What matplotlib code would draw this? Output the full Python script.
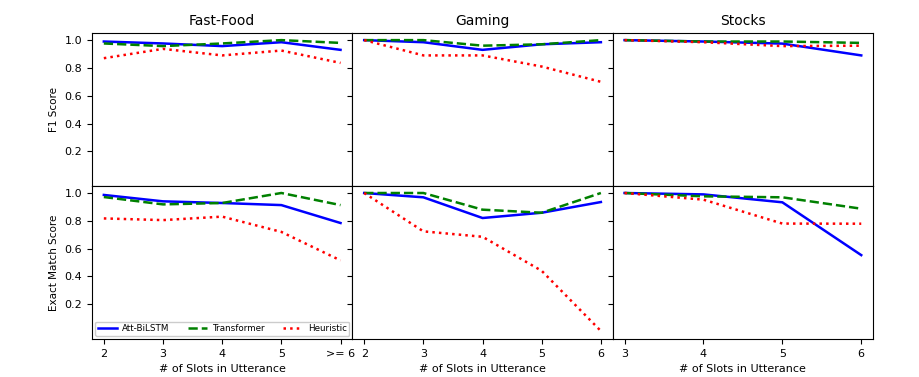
import numpy             as np
import matplotlib
matplotlib.use('Agg')
import matplotlib.pyplot as plt

domains  = ['Fast-Food', 'Gaming', 'Stocks']
x_slots  = [[2, 3, 4, 5, 6], [2, 3, 4, 5, 6], [3, 4, 5, 6]]
x_labels = [['2', '3', '4', '5', '>= 6'], ['2', '3', '4', '5', '6'], ['3', '4', '5', '6']]

# F1 score per domain
f1_bilstm      = [[0.99, 0.976, 0.957, 0.985, 0.93], [1.0, 0.985, 0.93, 0.97, 0.985], [1.0, 0.99, 0.975, 0.89]]
f1_transformer = [[0.976, 0.957, 0.976, 1.0, 0.98], [1.0, 1.0, 0.96, 0.97, 1.0], [1.0, 0.99, 0.99, 0.98]]
f1_heuristic   = [[0.87, 0.937, 0.89, 0.925, 0.836], [1.0, 0.89, 0.89, 0.81, 0.70], [1.0, 0.985, 0.957, 0.96]]

# exact match score per domain
em_bilstm      = [[0.986, 0.94, 0.928, 0.913, 0.784], [1.0, 0.969, 0.82, 0.858, 0.935], [1.0, 0.99, 0.933, 0.553]]
em_transformer = [[0.971, 0.918, 0.928, 1.0, 0.913], [1.0, 1.0, 0.88, 0.858, 1.0], [1.0, 0.976, 0.969, 0.887]]
em_heuristic   = [[0.817, 0.805, 0.83, 0.72, 0.515], [1.0, 0.724, 0.685, 0.44, 0.007], [1.0, 0.952, 0.78, 0.779]]

rows = [(f1_bilstm, f1_transformer, f1_heuristic, 'F1 Score'),
        (em_bilstm, em_transformer, em_heuristic, 'Exact Match Score')]

fig, axes = plt.subplots(2, 3, figsize=(9.2, 3.77), dpi=100)
fig.subplots_adjust(left=0.1, right=0.949, top=0.912, bottom=0.101, wspace=0, hspace=0)

for r, (bil, trf, heu, ylab) in enumerate(rows):
    for c in range(3):
        ax = axes[r][c]
        ax.plot(x_slots[c], bil[c], color='blue',  lw=1.8, ls='-',  label='Att-BiLSTM')
        ax.plot(x_slots[c], trf[c], color='green', lw=1.8, ls='--', label='Transformer')
        ax.plot(x_slots[c], heu[c], color='red',   lw=1.8, ls=':',  label='Heuristic')
        ax.set_ylim(-0.05, 1.05)
        ax.set_yticks([0.2, 0.4, 0.6, 0.8, 1.0])
        ax.set_xticks(x_slots[c])
        ax.tick_params(labelsize=8)
        if c == 0:
            ax.set_ylabel(ylab, fontsize=7.5)
        else:
            ax.set_yticklabels([])
        if r == 0:
            ax.set_title(domains[c], fontsize=10)
            ax.tick_params(axis='x', bottom=False, labelbottom=False)
        else:
            ax.set_xticklabels(x_labels[c])
            ax.set_xlabel('# of Slots in Utterance', fontsize=8)

axes[1][0].legend(loc='lower center', ncol=3, fontsize=6.3, mode='expand',
                  handlelength=2.2, handletextpad=0.6, borderaxespad=0.35,
                  borderpad=0.3, framealpha=1)

plt.savefig('out.png')
